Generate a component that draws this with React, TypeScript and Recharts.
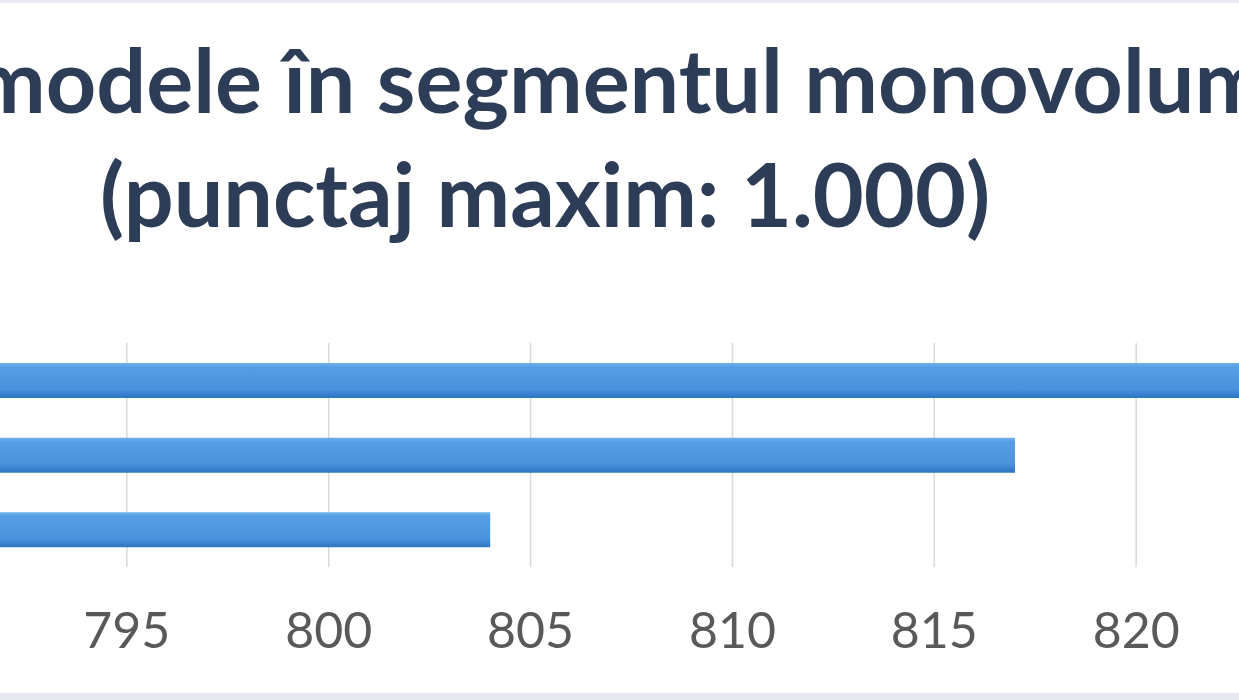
import React from "react";
import { BarChart, Bar, XAxis, YAxis, CartesianGrid } from "recharts";

const categories = ["Model A", "Model B", "Model C"];
const scores = [824, 817, 804];
const xTicks = [790, 795, 800, 805, 810, 815, 820, 825];
const titleLine1 = "modele în segmentul monovolume";
const titlePrefix = "Top ";
const titleLine2 = "(punctaj maxim: 1.000)";

const data = categories.map((name, i) => ({ name, value: scores[i] }));

export default function App() {
  return (
    <div
      style={{
        position: "fixed",
        left: 0,
        top: 0,
        width: 1239,
        height: 700,
        overflow: "hidden",
        background: "#ffffff",
      }}
    >
      <div style={{ position: "absolute", left: 0, top: 0, width: 1239, height: 3, background: "#e9eaf0" }} />
      <div style={{ position: "absolute", left: 0, top: 693, width: 1239, height: 7, background: "#e8e9ee" }} />
      <div style={{ position: "absolute", left: -285, top: 0 }}>
        <BarChart
          width={1643}
          height={700}
          layout="vertical"
          data={data}
          margin={{ top: 343, right: 20, bottom: 23, left: 10 }}
          barSize={35}
        >
          <defs>
            <linearGradient id="barGrad" x1="0" y1="0" x2="0" y2="1">
              <stop offset="0%" stopColor="#6fb0ec" />
              <stop offset="12%" stopColor="#569ee4" />
              <stop offset="75%" stopColor="#4a92dc" />
              <stop offset="100%" stopColor="#2d74c4" />
            </linearGradient>
          </defs>
          <CartesianGrid horizontal={false} stroke="#d9d9d9" strokeWidth={1.5} />
          <XAxis
            type="number"
            domain={[790, 825]}
            ticks={xTicks}
            allowDataOverflow
            axisLine={false}
            tickLine={false}
            height={110}
            tickMargin={39}
            tick={{ fill: "#595959", fontSize: 50, fontFamily: "Lato" }}
          />
          <YAxis
            type="category"
            dataKey="name"
            width={200}
            axisLine={false}
            tickLine={false}
            tick={{ fill: "#595959", fontSize: 20, fontFamily: "Lato" }}
          />
          <Bar dataKey="value" fill="url(#barGrad)" isAnimationActive={false} />
        </BarChart>
      </div>
      <svg
        width={1239}
        height={700}
        style={{ position: "absolute", left: 0, top: 0, pointerEvents: "none" }}
      >
        <text
          x={-28}
          y={113}
          textAnchor="end"
          fontFamily="Lato"
          fontWeight={700}
          fontSize={88}
          fill="#2e3d57"
        >
          {titlePrefix}
        </text>
        <text
          x={-28}
          y={113}
          textAnchor="start"
          fontFamily="Lato"
          fontWeight={700}
          fontSize={88}
          fill="#2e3d57"
        >
          {titleLine1}
        </text>
        <text
          x={545}
          y={227}
          textAnchor="middle"
          fontFamily="Lato"
          fontWeight={700}
          fontSize={88}
          fill="#2e3d57"
        >
          {titleLine2}
        </text>
      </svg>
    </div>
  );
}
